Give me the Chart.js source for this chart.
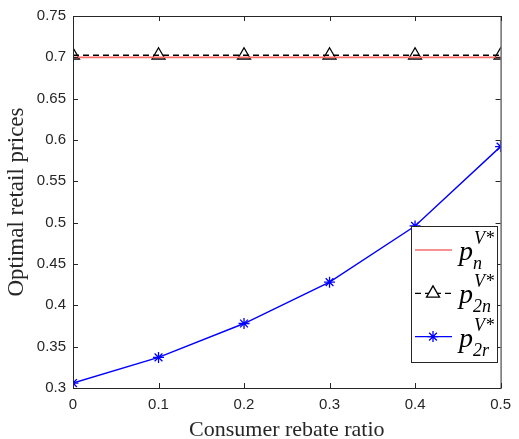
<!DOCTYPE html>
<html>
<head>
<meta charset="utf-8">
<script src="https://cdn.jsdelivr.net/npm/chart.js@4.4.1/dist/chart.umd.min.js"></script>
<style>
body { margin: 0; background: #fff; }
#wrap { width: 519px; height: 439px; }
</style>
</head>
<body>
<div id="wrap"><canvas id="priceChart"></canvas></div>
<script>
// rebate ratio on x, optimal retail price on y
let rebateRatio = [0, 0.1, 0.2, 0.3, 0.4, 0.5];
let pn = [0.7, 0.7, 0.7, 0.7, 0.7, 0.7];
let p2n = [0.7025, 0.7025, 0.7025, 0.7025, 0.7025, 0.7025];
let p2r = [0.306, 0.337, 0.378, 0.428, 0.496, 0.592];
let legendSubs = ["n", "2n", "2r"];

const axisColor = "#262626";
const redColor = "#f76d6d";

const toPoints = (arr) => arr.map((v, i) => ({x: rebateRatio[i], y: v}));

// matlab style frame + inward ticks
const matlabBox = {
   id: "matlabBox",
   afterDraw(chart) {
      const {ctx, chartArea: a, scales} = chart;
      ctx.save();
      ctx.strokeStyle = axisColor;
      ctx.lineWidth = 1;
      ctx.strokeRect(a.left + 0.5, a.top + 0.5, a.right - a.left, a.bottom - a.top);
      ctx.beginPath();
      scales.x.ticks.forEach((t) => {
         const px = Math.round(scales.x.getPixelForValue(t.value)) + 0.5;
         ctx.moveTo(px, a.bottom);
         ctx.lineTo(px, a.bottom - 5);
         ctx.moveTo(px, a.top);
         ctx.lineTo(px, a.top + 5);
      });
      scales.y.ticks.forEach((t) => {
         const py = Math.round(scales.y.getPixelForValue(t.value)) + 0.5;
         ctx.moveTo(a.left, py);
         ctx.lineTo(a.left + 5, py);
         ctx.moveTo(a.right, py);
         ctx.lineTo(a.right - 5, py);
      });
      ctx.stroke();
      ctx.restore();
   },
};

// legend with sub/superscripts
const mathLegend = {
   id: "mathLegend",
   afterDraw(chart) {
      const ctx = chart.ctx;
      const box = {x: 411.5, y: 226.5, w: 86, h: 136};
      ctx.save();
      ctx.fillStyle = "#fff";
      ctx.fillRect(box.x, box.y, box.w, box.h);
      ctx.strokeStyle = axisColor;
      ctx.lineWidth = 1;
      ctx.strokeRect(box.x, box.y, box.w, box.h);

      chart.data.datasets.forEach((ds, i) => {
         const cy = 250 + i * 43.3;
         ctx.strokeStyle = ds.borderColor;
         ctx.lineWidth = ds.borderWidth;
         ctx.setLineDash(ds.borderDash || []);
         ctx.beginPath();
         ctx.moveTo(415, cy);
         ctx.lineTo(452, cy);
         ctx.stroke();
         ctx.setLineDash([]);
         if (ds.pointStyle && ds.pointRadius > 0) {
            ctx.fillStyle = "#fff";
            ctx.lineWidth = 1.3;
            Chart.helpers.drawPoint(ctx, {
               pointStyle: ds.pointStyle,
               radius: ds.pointRadius,
               rotation: 0,
               borderWidth: 1.3,
            }, 433, cy);
         }
         ctx.fillStyle = "#000";
         ctx.textBaseline = "alphabetic";
         ctx.textAlign = "left";
         ctx.font = "italic 28px 'Liberation Serif'";
         ctx.fillText("p", 459, cy + 10);
         ctx.font = "italic 18px 'Liberation Serif'";
         ctx.fillText("V*", 474, cy - 6);
         ctx.fillText(legendSubs[i], 473, cy + 19);
      });
      ctx.restore();
   },
};

const ctx = document.getElementById("priceChart").getContext("2d");
const priceChart = new Chart(ctx, {
   type: "line",
   data: {
      datasets: [
         {
            label: "pn",
            data: toPoints(pn),
            borderColor: redColor,
            borderWidth: 1.6,
            pointRadius: 0,
            pointStyle: false,
         },
         {
            label: "p2n",
            data: toPoints(p2n),
            borderColor: "#000",
            borderWidth: 1.3,
            borderDash: [6, 4],
            pointStyle: "triangle",
            pointRadius: 7.5,
            pointBorderWidth: 1.3,
            pointBorderColor: "#000",
            pointBackgroundColor: "rgba(255,255,255,0)",
         },
         {
            label: "p2r",
            data: toPoints(p2r),
            borderColor: "#0000ff",
            borderWidth: 1.4,
            pointStyle: "star",
            pointRadius: 5.5,
            pointBorderWidth: 1.3,
            pointBorderColor: "#0000ff",
            pointBackgroundColor: "#0000ff",
         },
      ],
   },
   options: {
      responsive: true,
      maintainAspectRatio: false,
      animation: false,
      layout: {padding: {top: 16, right: 12, left: 0, bottom: 0}},
      scales: {
         x: {
            type: "linear",
            min: 0,
            max: 0.5,
            afterFit: (s) => { s.height = 51; },
            grid: {display: false, drawTicks: false},
            border: {display: false},
            ticks: {
               stepSize: 0.1,
               padding: 8,
               color: axisColor,
               font: {family: "'Liberation Sans', Arial", size: 15},
               callback: (v) => String(Number(v.toFixed(2))),
            },
            title: {
               display: true,
               text: "Consumer rebate ratio",
               color: axisColor,
               padding: {top: 0, bottom: -2},
               font: {family: "'Liberation Serif', 'Times New Roman'", size: 22, lineHeight: 1},
            },
         },
         y: {
            min: 0.3,
            max: 0.75,
            afterFit: (s) => { s.width = 73; },
            grid: {display: false, drawTicks: false},
            border: {display: false},
            ticks: {
               stepSize: 0.05,
               padding: 7,
               color: axisColor,
               font: {family: "'Liberation Sans', Arial", size: 15},
               callback: (v) => String(Number(v.toFixed(2))),
            },
            title: {
               display: true,
               text: "Optimal retail prices",
               color: axisColor,
               padding: {top: 5, bottom: 0},
               font: {family: "'Liberation Serif', 'Times New Roman'", size: 23, lineHeight: 1},
            },
         },
      },
      plugins: {
         legend: {display: false},
         tooltip: {enabled: false},
      },
   },
   plugins: [matlabBox, mathLegend],
});
</script>
</body>
</html>
